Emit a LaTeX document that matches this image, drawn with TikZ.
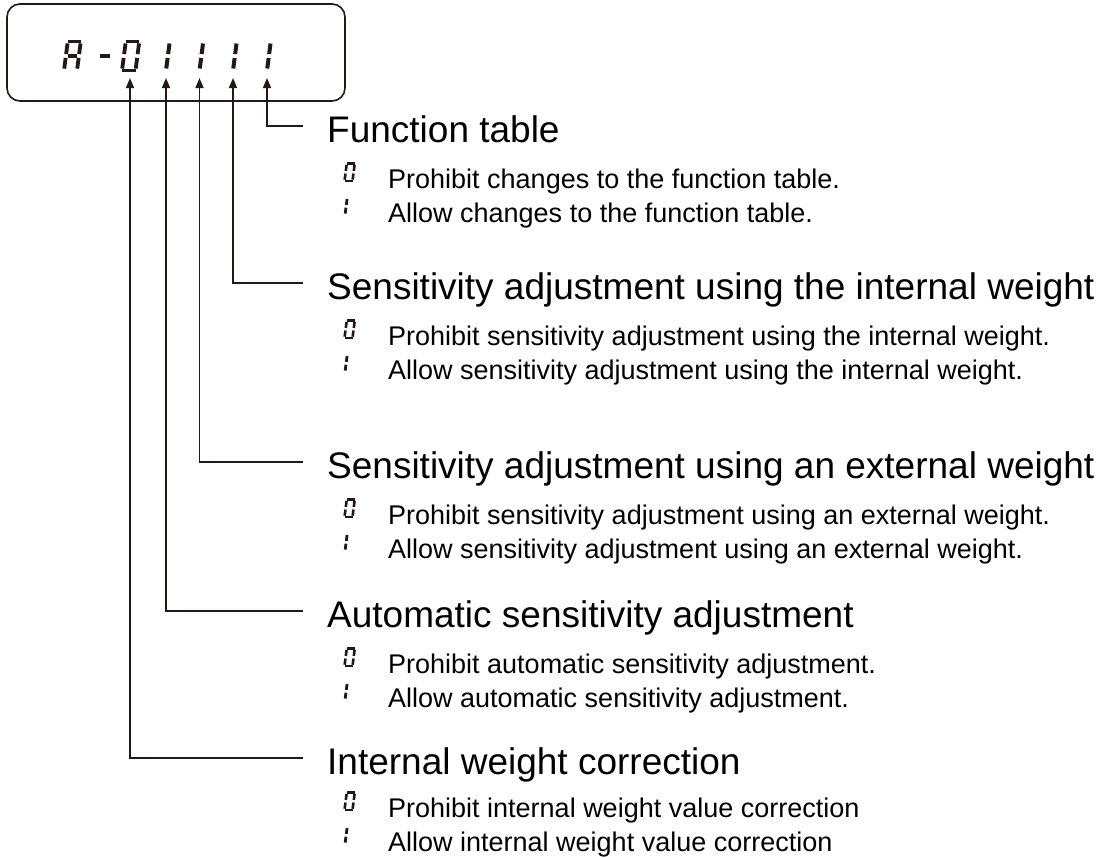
\documentclass[tikz,border=0pt]{standalone}
\usepackage{fontspec}
\setmainfont{Liberation Sans}
\usetikzlibrary{arrows.meta}

\definecolor{ink}{RGB}{35,24,21}

% one segment of a seven-segment digit: 0=a 1=b 2=c 3=d 4=e 5=f 6=g
% #2 height, #3 width, #4 stroke
\newcommand\lcdseg[4]{%
  \pgfmathsetmacro\segh{#2}\pgfmathsetmacro\segw{#3}%
  \pgfmathsetmacro\segg{#4/2}\pgfmathsetmacro\segm{#2/2}%
  \ifcase#1
    \draw (0,-\segh) -- (\segw,-\segh);
  \or \draw (\segw,\segg-\segh) -- (\segw,-\segm-\segg);
  \or \draw (\segw,\segg-\segm) -- (\segw,-\segg);
  \or \draw (0,0) -- (\segw,0);
  \or \draw (0,-\segg) -- (0,\segg-\segm);
  \or \draw (0,-\segm-\segg) -- (0,\segg-\segh);
  \or \draw (\segg,-\segm) -- (\segw-\segg,-\segm);
  \fi}
% #1 origin (bottom left), #2 height, #3 width, #4 stroke, #5 segments
\newcommand\lcddigit[5]{%
  \begin{scope}[shift={#1}, xslant=0.13, draw=ink, line width=#4pt, line cap=square]
    \foreach \s in {#5} {\lcdseg{\s}{#2}{#3}{#4}}
  \end{scope}}

\begin{document}
\begin{tikzpicture}[
  x=1pt, y=-1pt,
  heading/.style={anchor=base west, inner sep=0pt, text height=32pt,
                  text depth=0pt, font=\fontsize{37}{40}\selectfont},
  choice/.style={anchor=base west, inner sep=0pt, font=\fontsize{27}{30}\selectfont},
  pointer/.style={draw=ink, line width=1.5pt, -{Triangle[length=10pt,width=8pt]}},
]
\useasboundingbox (0,0) rectangle (1113,857);

% display
\node[draw=ink, line width=1.6pt, rounded corners=13pt, minimum width=338pt,
      minimum height=97pt, inner sep=0pt] (display) at (176,52.5) {};
\lcddigit{(64,70.5)}{29}{13}{3.8}{0,1,2,4,5,6}
\lcddigit{(96,70.5)}{29}{14}{3.8}{6}
\lcddigit{(122,70.5)}{29}{13.5}{3.8}{0,1,2,3,4,5}
\lcddigit{(152,70.5)}{29}{14}{4}{1,2}
\lcddigit{(185.5,70.5)}{29}{14}{4}{1,2}
\lcddigit{(219,70.5)}{29}{14}{4}{1,2}
\lcddigit{(253,70.5)}{29}{14}{4}{1,2}

\coordinate (tip1) at (267,78);
\coordinate (tip2) at (233,78);
\coordinate (tip3) at (199.5,78);
\coordinate (tip4) at (166,78);
\coordinate (tip5) at (130,78);

% function table
\node[heading] (h1) at (327,142) {Function table};
\lcddigit{(344.5,181)}{17.5}{8}{2.6}{0,1,2,3,4,5}
\node[choice] (p1) at (388,188) {Prohibit changes to the function table.};
\lcddigit{(337,215)}{17.5}{8}{2.8}{1,2}
\node[choice] (a1) at (388,222) {Allow changes to the function table.};
\draw[pointer] ([xshift=-24pt]h1.west) -| (tip1);

% internal weight
\node[heading] (h2) at (327,299) {Sensitivity adjustment using the internal weight};
\lcddigit{(344.5,338)}{17.5}{8}{2.6}{0,1,2,3,4,5}
\node[choice] (p2) at (388,345) {Prohibit sensitivity adjustment using the internal weight.};
\lcddigit{(337,372)}{17.5}{8}{2.8}{1,2}
\node[choice] (a2) at (388,379) {Allow sensitivity adjustment using the internal weight.};
\draw[pointer] ([xshift=-24pt]h2.west) -| (tip2);

% external weight
\node[heading] (h3) at (327,478) {Sensitivity adjustment using an external weight};
\lcddigit{(344.5,517)}{17.5}{8}{2.6}{0,1,2,3,4,5}
\node[choice] (p3) at (388,524) {Prohibit sensitivity adjustment using an external weight.};
\lcddigit{(337,551)}{17.5}{8}{2.8}{1,2}
\node[choice] (a3) at (388,558) {Allow sensitivity adjustment using an external weight.};
\draw[pointer] ([xshift=-24pt]h3.west) -| (tip3);

% automatic
\node[heading] (h4) at (327,627) {Automatic sensitivity adjustment};
\lcddigit{(344.5,666)}{17.5}{8}{2.6}{0,1,2,3,4,5}
\node[choice] (p4) at (388,673) {Prohibit automatic sensitivity adjustment.};
\lcddigit{(337,700)}{17.5}{8}{2.8}{1,2}
\node[choice] (a4) at (388,707) {Allow automatic sensitivity adjustment.};
\draw[pointer] ([xshift=-24pt]h4.west) -| (tip4);

% correction
\node[heading] (h5) at (327,774) {Internal weight correction};
\lcddigit{(344.5,810)}{17.5}{8}{2.6}{0,1,2,3,4,5}
\node[choice] (p5) at (388,817) {Prohibit internal weight value correction};
\lcddigit{(337,844)}{17.5}{8}{2.8}{1,2}
\node[choice] (a5) at (388,851) {Allow internal weight value correction};
\draw[pointer] ([xshift=-24pt]h5.west) -| (tip5);
\end{tikzpicture}
\end{document}
